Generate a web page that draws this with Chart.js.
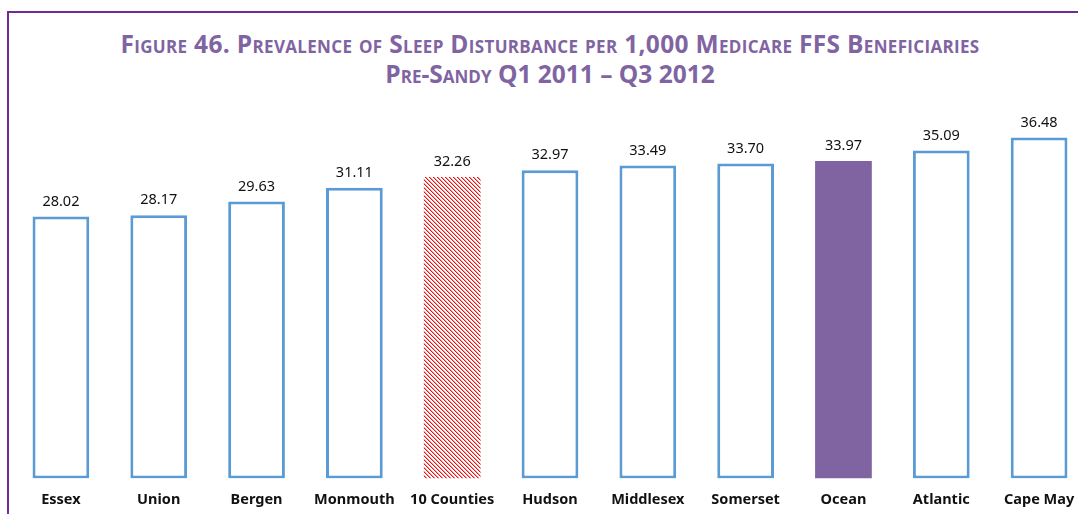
<!DOCTYPE html>
<html>
<head>
<meta charset="utf-8">
<script src="https://cdn.jsdelivr.net/npm/chart.js@4"></script>
<style>
  html, body { margin: 0; padding: 0; background: #fff; overflow: hidden; }
  body { width: 1078px; height: 514px; position: relative; }
  #frame {
    position: absolute; left: 7px; top: 11px; width: 1200px; height: 600px;
    border-top: 2px solid #6f2c91; border-left: 2px solid #6f2c91;
  }
  #title {
    position: absolute; left: 0; top: 29px; width: 1100px; text-align: center;
    font-family: "Open Sans", sans-serif; font-weight: bold; font-size: 24.5px;
    font-variant: small-caps; color: #8064a2; line-height: 30px;
  }
  #title .wide { letter-spacing: 0.33px; }
  #chart { position: absolute; left: 0; top: 0; }
</style>
</head>
<body>
<div id="frame"></div>
<div id="title"><span class="wide">Figure 46. Prevalence of Sleep Disturbance per 1,000 Medicare FFS Beneficiaries</span><br>Pre-Sandy Q1 2011 – Q3 2012</div>
<canvas id="chart" width="1100" height="528"></canvas>
<script>
const counties = ["Essex", "Union", "Bergen", "Monmouth", "10 Counties", "Hudson",
  "Middlesex", "Somerset", "Ocean", "Atlantic", "Cape May"];
const prevalence = [28.02, 28.17, 29.63, 31.11, 32.26, 32.97, 33.49, 33.70, 33.97, 35.09, 36.48];

const outline = "#5b9bd5";
const oceanFill = "#8064a2";

// red diagonal hatch used for the 10-county average
function hatchPattern() {
  const c = document.createElement("canvas");
  c.width = 4;
  c.height = 4;
  const g = c.getContext("2d");
  g.fillStyle = "#fff";
  g.fillRect(0, 0, 4, 4);
  for (let i = 0; i < 4; i++) {
    g.fillStyle = "#e01818";
    g.fillRect(i, i, 1, 1);
    g.fillStyle = "#f3a0a0";
    g.fillRect((i + 1) % 4, i, 1, 1);
  }
  return g.createPattern(c, "repeat");
}
const hatch = hatchPattern();

const fills = counties.map(function (name) {
  if (name === "Ocean") return oceanFill;
  if (name === "10 Counties") return hatch;
  return "#fff";
});
const borders = counties.map(function (name) {
  return name === "Ocean" || name === "10 Counties" ? 0 : 3;
});

const valueLabels = {
  id: "valueLabels",
  afterDatasetsDraw(chart) {
    const ctx = chart.ctx;
    const meta = chart.getDatasetMeta(0);
    ctx.save();
    ctx.font = "14.5px 'Noto Sans', sans-serif";
    ctx.fillStyle = "#111";
    ctx.textAlign = "center";
    ctx.textBaseline = "middle";
    meta.data.forEach(function (bar, i) {
      ctx.fillText(prevalence[i].toFixed(2), bar.x, bar.y - 15);
    });
    ctx.restore();
  },
};

new Chart(document.getElementById("chart"), {
  type: "bar",
  data: {
    labels: counties,
    datasets: [
      {
        data: prevalence,
        backgroundColor: fills,
        borderColor: outline,
        borderWidth: borders,
        borderSkipped: false,
        barPercentage: 0.58,
        categoryPercentage: 1,
      },
    ],
  },
  options: {
    responsive: false,
    animation: false,
    layout: { padding: { left: 12, right: 12, top: 106, bottom: 6 } },
    plugins: { legend: { display: false }, tooltip: { enabled: false } },
    scales: {
      y: { display: false, min: 0, max: 39.85 },
      x: {
        grid: { display: false, drawTicks: false },
        border: { display: false },
        ticks: {
          padding: 13,
          color: "#111",
          font: { family: "'Noto Sans', sans-serif", size: 14.5, weight: "bold" },
          maxRotation: 0,
          autoSkip: false,
        },
      },
    },
  },
  plugins: [valueLabels],
});
</script>
</body>
</html>
